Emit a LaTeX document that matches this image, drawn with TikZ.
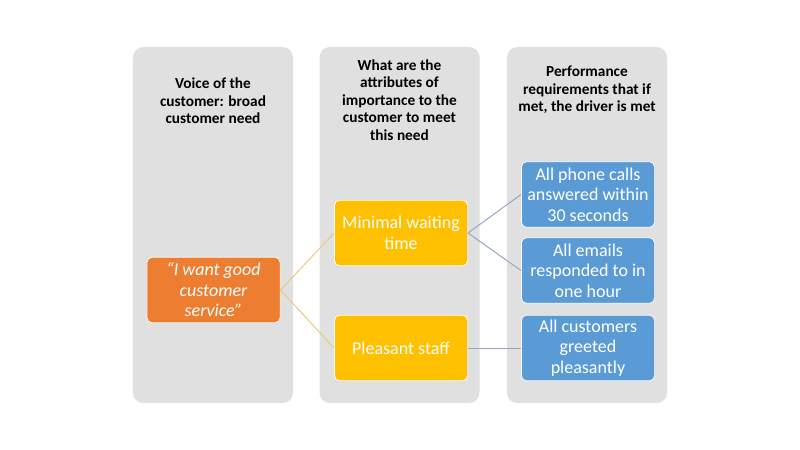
\documentclass[tikz,border=0pt]{standalone}
\usepackage{fontspec}
\setmainfont{Carlito}
\usetikzlibrary{positioning,backgrounds}
\definecolor{panelgrey}{RGB}{224,224,224}
\definecolor{needorange}{RGB}{237,125,49}
\definecolor{attryellow}{RGB}{255,192,0}
\definecolor{reqblue}{RGB}{91,155,213}
\definecolor{linkyellow}{RGB}{232,204,120}
\definecolor{linkblue}{RGB}{150,165,196}

\begin{document}
\begin{tikzpicture}[
    x=0.25mm,y=-0.25mm,
    panel/.style={fill=panelgrey,rounded corners=2.6mm,
      minimum width=40mm,minimum height=89mm,inner sep=0pt},
    head/.style={font=\fontsize{10.9}{12.4}\selectfont\bfseries,
      align=center,text=black,inner sep=0pt},
    box/.style={fill=#1,draw=white,line width=0.5pt,rounded corners=1.3mm,
      minimum width=33.3mm,minimum height=16.4mm,align=center,
      text=white,font=\fontsize{12.8}{14.6}\selectfont,inner sep=1pt},
    link/.style={line width=0.7pt,draw=#1},
  ]

  \useasboundingbox (0,0) rectangle (800,450);

  \def\midy{225}

  % the three grey columns
  \foreach \i/\x in {1/213, 2/399.5, 3/587} {
    \node[panel] (panel\i) at (\x,\midy) {};
  }

  \node[head] (head1) at (213,101)
    {Voice of the\\customer: broad\\customer need};
  \node[head] (head2) at (399.5,100)
    {What are the\\attributes of\\importance to the\\customer to meet\\this need};
  \node[head] (head3) at (587,90)
    {Performance\\requirements that if\\met, the driver is met};

  \node[box=needorange,font=\fontsize{12.8}{14.6}\selectfont\itshape] (need)
    at (213.5,290) {“I want good\\customer\\service”};

  \node[box=attryellow] (wait) at (401,233) {Minimal waiting\\time};
  \node[box=attryellow] (staff) at (401,348) {Pleasant staff};

  \node[box=reqblue] (calls) at (588,194.5)
    {All phone calls\\answered within\\30 seconds};
  \node[box=reqblue] (emails) at (588,270.5)
    {All emails\\responded to in\\one hour};
  \node[box=reqblue] (greet) at (588,348)
    {All customers\\greeted\\pleasantly};

  \draw[link=linkyellow] (need.east) -- (wait.west);
  \draw[link=linkyellow] (need.east) -- (staff.west);
  \draw[link=linkblue] (wait.east) -- (calls.west);
  \draw[link=linkblue] (wait.east) -- (emails.west);
  \draw[link=linkblue] (staff.east) -- (greet.west);

\end{tikzpicture}
\end{document}
